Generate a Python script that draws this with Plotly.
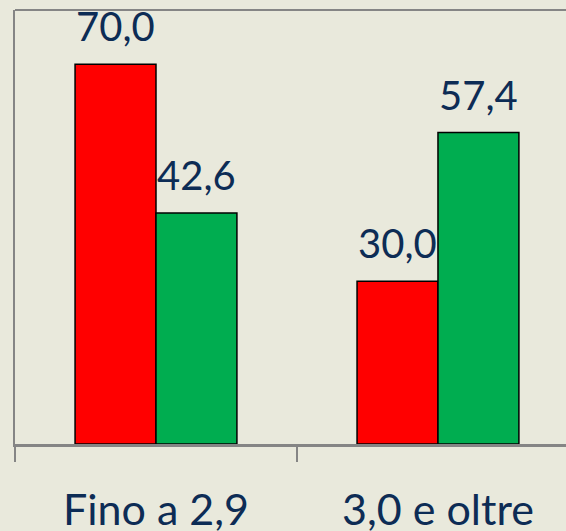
"""
Grouped bar chart: two series over two classes, value labels above the bars.
"""

import plotly.graph_objects as go

categories = ["Fino a 2,9", "3,0 e oltre"]
red_values = [70.0, 30.0]
green_values = [42.6, 57.4]

FONT = "Lato, 'Open Sans', sans-serif"
TEXT_COLOR = "#0d2c55"
AXIS_COLOR = "#858585"
BG = "#e9e9dc"


def it_num(v):
    return f"{v:.1f}".replace(".", ",")


fig = go.Figure()
fig.add_trace(
    go.Bar(
        x=categories,
        y=red_values,
        name="Serie 1",
        marker={"color": "#ff0000", "line": {"color": "#000000", "width": 1.5}},
    )
)
fig.add_trace(
    go.Bar(
        x=categories,
        y=green_values,
        name="Serie 2",
        marker={"color": "#00ad50", "line": {"color": "#000000", "width": 1.5}},
    )
)

# value labels, shifted over each bar of the group
annotations = []
for series, shift in ((red_values, -40.5), (green_values, 40.5)):
    for cat, val in zip(categories, series):
        annotations.append(
            dict(
                x=cat,
                y=val,
                xref="x",
                yref="y",
                text=it_num(val),
                showarrow=False,
                xshift=shift,
                yshift=12,
                yanchor="bottom",
                font={"family": FONT, "size": 40, "color": TEXT_COLOR},
            )
        )

fig.update_layout(
    width=566,
    height=531,
    margin={"l": 15, "r": 0, "t": 10, "b": 87, "autoexpand": False},
    paper_bgcolor=BG,
    plot_bgcolor=BG,
    barmode="group",
    bargap=0.426,
    bargroupgap=0,
    showlegend=False,
    annotations=annotations,
    shapes=[
        dict(
            type="line",
            xref="paper",
            yref="paper",
            x0=0,
            x1=1,
            y0=1,
            y1=1,
            line={"color": AXIS_COLOR, "width": 2},
        )
    ],
)
fig.update_xaxes(
    type="category",
    range=[-0.5, 1.454],
    automargin=False,
    showline=True,
    linecolor=AXIS_COLOR,
    linewidth=2.5,
    ticks="outside",
    tickson="boundaries",
    ticklen=15,
    tickwidth=2,
    tickcolor=AXIS_COLOR,
    tickfont={"family": FONT, "size": 43, "color": TEXT_COLOR},
    ticklabelstandoff=27,
    showgrid=False,
)
fig.update_yaxes(
    range=[0, 80],
    automargin=False,
    showline=True,
    linecolor=AXIS_COLOR,
    linewidth=2,
    showticklabels=False,
    ticks="",
    showgrid=False,
    zeroline=False,
)

# the page body has a default margin; drop it so the figure sits at 0,0
fig.write_html(
    "out.html",
    config={"displayModeBar": False},
    post_script="document.body.style.margin='0';document.body.style.background='%s';" % BG,
)
